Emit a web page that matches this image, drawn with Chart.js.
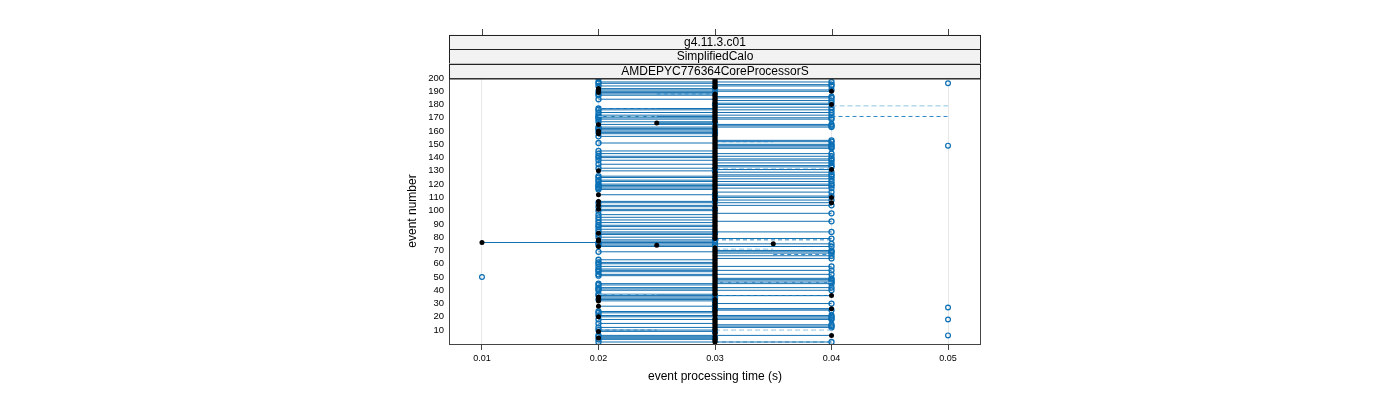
<!DOCTYPE html>
<html>
<head>
<meta charset="utf-8">
<script src="https://cdn.jsdelivr.net/npm/chart.js@4.4.1/dist/chart.umd.min.js"></script>
<style>
  html, body { margin: 0; padding: 0; background: #fff; }
  canvas { display: block; }
</style>
</head>
<body>
<canvas id="timeCanvas" width="1400" height="400"></canvas>
<script>
// strip labels (top to bottom)
const STRIPS = ['g4.11.3.c01', 'SimplifiedCalo', 'AMDEPYC776364CoreProcessorS'];

const X_TICKS = [0.01, 0.02, 0.03, 0.04, 0.05];
const Y_TICKS = [10, 20, 30, 40, 50, 60, 70, 80, 90, 100, 110, 120, 130, 140, 150, 160, 170, 180, 190, 200];

// reference time per event (black dots), events 1..200
const REF_TIME = [
  0.03, 0.03, 0.03, 0.02, 0.03, 0.04, 0.03, 0.03, 0.02, 0.03,
  0.03, 0.03, 0.03, 0.03, 0.03, 0.03, 0.03, 0.03, 0.03, 0.02,
  0.03, 0.03, 0.03, 0.03, 0.03, 0.04, 0.03, 0.02, 0.03, 0.03,
  0.03, 0.02, 0.03, 0.02, 0.02, 0.04, 0.03, 0.03, 0.03, 0.03,
  0.03, 0.03, 0.03, 0.03, 0.03, 0.03, 0.03, 0.03, 0.03, 0.03,
  0.03, 0.03, 0.03, 0.03, 0.03, 0.03, 0.03, 0.03, 0.03, 0.03,
  0.03, 0.03, 0.03, 0.03, 0.03, 0.03, 0.03, 0.03, 0.03, 0.03,
  0.03, 0.03, 0.02, 0.025, 0.035, 0.01, 0.02, 0.02, 0.03, 0.03,
  0.03, 0.03, 0.02, 0.03, 0.03, 0.03, 0.03, 0.03, 0.03, 0.03,
  0.03, 0.03, 0.03, 0.03, 0.03, 0.03, 0.03, 0.03, 0.03, 0.03,
  0.02, 0.03, 0.03, 0.02, 0.03, 0.04, 0.02, 0.03, 0.03, 0.04,
  0.03, 0.02, 0.03, 0.03, 0.03, 0.03, 0.03, 0.03, 0.03, 0.03,
  0.03, 0.03, 0.03, 0.03, 0.03, 0.03, 0.03, 0.03, 0.03, 0.02,
  0.04, 0.03, 0.03, 0.03, 0.03, 0.03, 0.03, 0.03, 0.03, 0.03,
  0.03, 0.03, 0.03, 0.03, 0.03, 0.03, 0.03, 0.03, 0.03, 0.03,
  0.03, 0.03, 0.03, 0.03, 0.03, 0.03, 0.03, 0.02, 0.03, 0.02,
  0.03, 0.03, 0.03, 0.03, 0.02, 0.025, 0.03, 0.03, 0.03, 0.03,
  0.03, 0.03, 0.03, 0.03, 0.03, 0.03, 0.03, 0.03, 0.03, 0.04,
  0.03, 0.03, 0.03, 0.03, 0.03, 0.03, 0.03, 0.03, 0.02, 0.04,
  0.02, 0.02, 0.03, 0.03, 0.03, 0.03, 0.03, 0.03, 0.03, 0.03,
];

// first run (mostly faster), events 1..200
const RUN_A_TIME = [
  0.02, 0.03, 0.02, 0.03, 0.02, 0.02, 0.03, 0.03, 0.02, 0.02,
  0.03, 0.02, 0.03, 0.03, 0.02, 0.03, 0.03, 0.02, 0.03, 0.02,
  0.02, 0.03, 0.02, 0.02, 0.03, 0.03, 0.03, 0.02, 0.03, 0.03,
  0.03, 0.02, 0.02, 0.02, 0.02, 0.02, 0.02, 0.03, 0.03, 0.02,
  0.02, 0.02, 0.03, 0.02, 0.02, 0.03, 0.03, 0.03, 0.03, 0.03,
  0.02, 0.02, 0.03, 0.02, 0.02, 0.02, 0.03, 0.02, 0.03, 0.02,
  0.02, 0.03, 0.02, 0.03, 0.03, 0.03, 0.03, 0.03, 0.02, 0.03,
  0.03, 0.03, 0.02, 0.02, 0.02, 0.02, 0.02, 0.02, 0.03, 0.02,
  0.03, 0.02, 0.02, 0.02, 0.03, 0.02, 0.03, 0.02, 0.02, 0.03,
  0.02, 0.03, 0.02, 0.03, 0.02, 0.03, 0.02, 0.03, 0.03, 0.02,
  0.02, 0.03, 0.02, 0.02, 0.03, 0.02, 0.02, 0.03, 0.03, 0.03,
  0.03, 0.02, 0.03, 0.03, 0.03, 0.02, 0.02, 0.02, 0.02, 0.02,
  0.03, 0.02, 0.02, 0.03, 0.02, 0.02, 0.03, 0.03, 0.03, 0.02,
  0.03, 0.02, 0.03, 0.03, 0.02, 0.03, 0.03, 0.02, 0.03, 0.02,
  0.02, 0.03, 0.02, 0.03, 0.02, 0.03, 0.03, 0.03, 0.03, 0.03,
  0.02, 0.03, 0.03, 0.03, 0.03, 0.02, 0.03, 0.02, 0.02, 0.02,
  0.02, 0.02, 0.02, 0.03, 0.02, 0.03, 0.02, 0.03, 0.02, 0.02,
  0.02, 0.02, 0.03, 0.02, 0.03, 0.02, 0.02, 0.03, 0.03, 0.03,
  0.03, 0.03, 0.03, 0.02, 0.03, 0.03, 0.02, 0.02, 0.02, 0.02,
  0.02, 0.02, 0.03, 0.02, 0.03, 0.02, 0.02, 0.03, 0.03, 0.02,
];

// second run (mostly slower), events 1..200
const RUN_B_TIME = [
  0.04, 0.03, 0.03, 0.03, 0.03, 0.04, 0.03, 0.03, 0.03, 0.03,
  0.03, 0.04, 0.04, 0.04, 0.03, 0.03, 0.03, 0.04, 0.04, 0.04,
  0.04, 0.03, 0.03, 0.03, 0.04, 0.03, 0.03, 0.03, 0.03, 0.04,
  0.03, 0.03, 0.03, 0.03, 0.03, 0.03, 0.03, 0.03, 0.03, 0.04,
  0.03, 0.04, 0.03, 0.03, 0.04, 0.04, 0.04, 0.04, 0.04, 0.03,
  0.03, 0.04, 0.03, 0.03, 0.04, 0.03, 0.03, 0.04, 0.03, 0.03,
  0.03, 0.03, 0.03, 0.04, 0.03, 0.04, 0.03, 0.04, 0.04, 0.04,
  0.03, 0.03, 0.04, 0.03, 0.04, 0.03, 0.03, 0.03, 0.04, 0.03,
  0.03, 0.03, 0.03, 0.04, 0.03, 0.03, 0.03, 0.03, 0.03, 0.03,
  0.03, 0.04, 0.03, 0.03, 0.03, 0.03, 0.03, 0.04, 0.03, 0.03,
  0.03, 0.03, 0.03, 0.04, 0.03, 0.04, 0.03, 0.04, 0.03, 0.04,
  0.04, 0.03, 0.03, 0.04, 0.03, 0.03, 0.04, 0.03, 0.04, 0.04,
  0.03, 0.04, 0.03, 0.04, 0.03, 0.04, 0.04, 0.03, 0.04, 0.03,
  0.03, 0.03, 0.04, 0.04, 0.03, 0.04, 0.03, 0.04, 0.04, 0.03,
  0.04, 0.03, 0.04, 0.03, 0.03, 0.03, 0.04, 0.04, 0.04, 0.04,
  0.03, 0.04, 0.04, 0.03, 0.03, 0.03, 0.03, 0.03, 0.03, 0.03,
  0.03, 0.03, 0.04, 0.04, 0.04, 0.03, 0.03, 0.03, 0.04, 0.04,
  0.03, 0.04, 0.03, 0.04, 0.03, 0.04, 0.03, 0.04, 0.03, 0.04,
  0.04, 0.03, 0.04, 0.03, 0.04, 0.04, 0.03, 0.03, 0.03, 0.04,
  0.04, 0.03, 0.03, 0.04, 0.04, 0.03, 0.04, 0.03, 0.03, 0.03,
];

// dashed ranges: event, from, to
const DASH_A_EVENT = [1, 10, 36, 67, 78, 152, 171, 177, 188];
const DASH_A_FROM = [0.03, 0.02, 0.03, 0.035, 0.03, 0.03, 0.04, 0.02, 0.025];
const DASH_A_TO = [0.04, 0.025, 0.04, 0.04, 0.04, 0.035, 0.05, 0.025, 0.03];
const DASH_B_EVENT = [10, 37, 46, 71, 132, 171, 179];
const DASH_B_FROM = [0.03, 0.02, 0.03, 0.03, 0.03, 0.02, 0.04];
const DASH_B_TO = [0.04, 0.025, 0.04, 0.035, 0.04, 0.025, 0.05];

// isolated slow / fast events
const OUTLIER_EVENT = [6, 18, 27, 50, 149, 196];
const OUTLIER_TIME = [0.05, 0.05, 0.05, 0.01, 0.05, 0.05];

const FONT = 'Liberation Sans, Arial, sans-serif';
const BLUE = '#0a6fb5';

const toPoints = (events, times) => times.map((t, i) => ({ x: t, y: events[i] }));

// one horizontal segment per event: from -> to, then a gap
const toRanges = (events, from, to) => {
  const out = [];
  events.forEach((e, i) => {
    out.push({ x: from[i], y: e }, { x: to[i], y: e }, { x: null, y: e });
  });
  return out;
};

const EVENTS = REF_TIME.map((_, i) => i + 1);

// circle only on the run end, and only where it leaves the reference
const runRadius = ctx => {
  if (ctx.dataIndex % 3 !== 1) return 0;
  const p = ctx.dataset.data[ctx.dataIndex];
  return p.x === REF_TIME[p.y - 1] ? 0 : 2.5;
};

const panelDecor = {
  id: 'panelDecor',
  afterDraw(chart) {
    const { ctx, chartArea: area, scales } = chart;
    ctx.save();

    // panel border
    ctx.strokeStyle = '#444';
    ctx.lineWidth = 1;
    ctx.strokeRect(area.left + 0.5, area.top + 0.5, area.right - area.left - 1, area.bottom - area.top);

    // strips
    const stripH = 14.5;
    STRIPS.forEach((label, i) => {
      const top = area.top - stripH * (STRIPS.length - i);
      ctx.fillStyle = '#f2f2f2';
      ctx.fillRect(area.left, top, area.right - area.left, stripH);
      ctx.strokeStyle = '#222';
      ctx.strokeRect(area.left + 0.5, Math.round(top) + 0.5, area.right - area.left - 1, stripH);
      ctx.fillStyle = '#000';
      ctx.font = '12px ' + FONT;
      ctx.textAlign = 'center';
      ctx.textBaseline = 'middle';
      ctx.fillText(label, (area.left + area.right) / 2, top + stripH / 2 + 0.5);
    });

    // top tick marks
    const stripTop = Math.round(area.top - stripH * STRIPS.length);
    ctx.strokeStyle = '#444';
    X_TICKS.forEach(v => {
      const x = Math.round(scales.x.getPixelForValue(v)) + 0.5;
      ctx.beginPath();
      ctx.moveTo(x, stripTop - 6);
      ctx.lineTo(x, stripTop);
      ctx.stroke();
    });

    // axis titles
    ctx.fillStyle = '#000';
    ctx.font = '12px ' + FONT;
    ctx.textAlign = 'center';
    ctx.textBaseline = 'middle';
    ctx.fillText('event processing time (s)', (area.left + area.right) / 2, 377);
    ctx.translate(413, (area.top + area.bottom) / 2);
    ctx.rotate(-Math.PI / 2);
    ctx.fillText('event number', 0, 0);
    ctx.restore();
  },
};

const runStyle = {
  borderColor: '#1470b0',
  borderWidth: 1,
  pointRadius: runRadius,
  pointBackgroundColor: 'rgba(0,0,0,0)',
  pointBorderColor: BLUE,
  pointBorderWidth: 1.3,
  spanGaps: false,
  order: 3,
};

const ctx = document.getElementById('timeCanvas').getContext('2d');

new Chart(ctx, {
  type: 'line',
  data: {
    datasets: [
      {
        label: 'reference',
        data: toPoints(EVENTS, REF_TIME),
        showLine: false,
        pointRadius: 2.5,
        pointBackgroundColor: '#000',
        pointBorderColor: '#000',
        pointBorderWidth: 0,
        order: 0,
      },
      {
        label: 'outliers',
        data: toPoints(OUTLIER_EVENT, OUTLIER_TIME),
        showLine: false,
        pointRadius: 2.4,
        pointBackgroundColor: 'rgba(0,0,0,0)',
        pointBorderColor: BLUE,
        pointBorderWidth: 1.2,
        order: 1,
      },
      {
        label: 'dashA',
        data: toRanges(DASH_A_EVENT, DASH_A_FROM, DASH_A_TO),
        borderColor: '#2f86c6',
        borderWidth: 1,
        borderDash: [4, 3],
        pointRadius: 0,
        spanGaps: false,
        order: 2,
      },
      {
        label: 'dashB',
        data: toRanges(DASH_B_EVENT, DASH_B_FROM, DASH_B_TO),
        borderColor: '#8fc2e6',
        borderWidth: 1,
        borderDash: [5, 3],
        pointRadius: 0,
        spanGaps: false,
        order: 2,
      },
      { label: 'runA', data: toRanges(EVENTS, REF_TIME, RUN_A_TIME), ...runStyle },
      { label: 'runB', data: toRanges(EVENTS, REF_TIME, RUN_B_TIME), ...runStyle },
    ],
  },
  options: {
    responsive: false,
    animation: false,
    devicePixelRatio: 1,
    layout: { padding: { left: 0, right: 419, top: 78, bottom: 0 } },
    plugins: { legend: { display: false }, tooltip: { enabled: false } },
    scales: {
      x: {
        type: 'linear',
        min: 0.00717,
        max: 0.05283,
        afterBuildTicks: s => { s.ticks = X_TICKS.map(v => ({ value: v })); },
        afterFit: s => { s.height = 56; },
        ticks: {
          font: { size: 9, family: FONT },
          color: '#000',
          padding: 3,
          maxRotation: 0,
          autoSkip: false,
          callback: v => v.toFixed(2),
        },
        grid: { color: '#e8e8e8', tickColor: '#444', tickLength: 6 },
        border: { display: false },
      },
      y: {
        type: 'linear',
        min: -0.5,
        max: 200,
        afterBuildTicks: s => { s.ticks = Y_TICKS.map(v => ({ value: v })); },
        afterFit: s => { s.width = 449; },
        ticks: { font: { size: 9.5, family: FONT }, color: '#000', padding: 5, autoSkip: false },
        grid: { display: false, drawTicks: false },
        border: { display: false },
      },
    },
  },
  plugins: [panelDecor],
});
</script>
</body>
</html>
